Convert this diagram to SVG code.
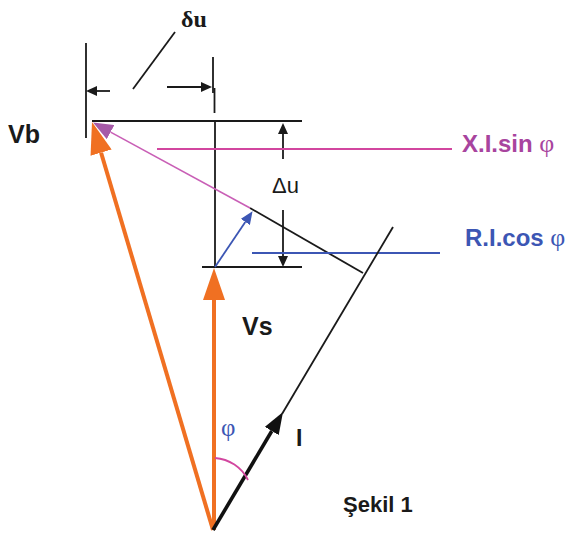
<svg xmlns="http://www.w3.org/2000/svg" width="576" height="540" viewBox="0 0 576 540">
<style>
.k{stroke:#1a1a1a;stroke-width:1.8;fill:none}
.or{stroke:#f07022;stroke-width:4;fill:none}
.mg{stroke:#c95fb6;stroke-width:1.6;fill:none}
.mgh{stroke:#d2469f;stroke-width:1.8;fill:none}
.bl{stroke:#3c56b4;stroke-width:1.8;fill:none}
.t{font-family:"Liberation Sans",Arial,sans-serif;font-weight:bold}
.ph{font-family:"Liberation Serif","DejaVu Serif",serif;font-weight:normal}
</style>
<defs>
<marker id="ao" viewBox="0 0 32 22" refX="0" refY="11" markerWidth="32" markerHeight="22" markerUnits="userSpaceOnUse" orient="auto"><path d="M0,0 L32,11 L0,22 z" fill="#f07022"/></marker>
<marker id="ak" viewBox="0 0 11 10" refX="0" refY="5" markerWidth="11" markerHeight="10" markerUnits="userSpaceOnUse" orient="auto"><path d="M0,0 L11,5 L0,10 z" fill="#1a1a1a"/></marker>
<marker id="ai" viewBox="0 0 22 16" refX="0" refY="8" markerWidth="22" markerHeight="16" markerUnits="userSpaceOnUse" orient="auto"><path d="M0,0 L22,8 L0,16 z" fill="#111"/></marker>
<marker id="ab" viewBox="0 0 13 11" refX="0" refY="5.5" markerWidth="13" markerHeight="11" markerUnits="userSpaceOnUse" orient="auto"><path d="M0,0 L13,5.5 L0,11 z" fill="#3c56b4"/></marker>
<marker id="am" viewBox="0 0 20 16" refX="0" refY="8" markerWidth="20" markerHeight="16" markerUnits="userSpaceOnUse" orient="auto"><path d="M0,0 L20,8 L0,16 z" fill="#a65aa8"/></marker>
</defs>
<g id="connectors">
<line class="k" x1="86" y1="43" x2="86" y2="138"/>
<line class="k" x1="213" y1="57" x2="213" y2="93"/>
<line class="k" x1="214.5" y1="88" x2="214.5" y2="113"/>
<line class="k" x1="215" y1="120" x2="215" y2="267"/>
<line class="k" x1="92" y1="121" x2="302" y2="121"/>
<line class="k" x1="202" y1="267" x2="302" y2="267"/>
<line class="k" x1="133" y1="89" x2="175" y2="32"/>
<line class="k" x1="110" y1="91" x2="97" y2="91" marker-end="url(#ak)"/>
<line class="k" x1="167" y1="87" x2="201" y2="87" marker-end="url(#ak)"/>
<line class="k" x1="283" y1="159" x2="283" y2="134" marker-end="url(#ak)"/>
<line class="k" x1="283" y1="210" x2="283" y2="256" marker-end="url(#ak)"/>
<line class="k" x1="250" y1="208" x2="363" y2="273"/>
<line class="mgh" x1="157" y1="149" x2="452" y2="149"/>
<line class="bl" x1="252" y1="253" x2="440" y2="253"/>
<line class="or" x1="214" y1="530" x2="214" y2="300" marker-end="url(#ao)"/>
<line class="or" x1="213" y1="530" x2="101.1" y2="152.7" marker-end="url(#ao)"/>
<line class="mg" x1="250" y1="208" x2="110.6" y2="132.1" marker-end="url(#am)"/>
<line class="bl" x1="215" y1="267" x2="245.3" y2="222" marker-end="url(#ab)"/>
<line stroke="#111" stroke-width="3.6" x1="213" y1="530" x2="271.8" y2="431" marker-end="url(#ai)"/>
<line class="k" stroke-width="1.6" x1="282" y1="414" x2="393" y2="227"/>
<path class="mgh" d="M215,458 A40,40 0 0 1 248,480"/>
</g>
<g id="label-du"><text class="ph" x="181" y="27" font-size="24" fill="#1a1a1a" style="font-weight:bold">δu</text></g>
<g id="label-Du"><text class="t" style="font-weight:normal" x="272" y="193" font-size="22" fill="#1a1a1a">Δu</text></g>
<g id="label-Vb"><text class="t" x="8" y="143" font-size="25" fill="#1a1a1a">Vb</text></g>
<g id="label-Vs"><text class="t" x="242" y="335" font-size="25" fill="#1a1a1a">Vs</text></g>
<g id="label-X"><text class="t" x="462" y="152" font-size="24" fill="#a8449e">X.I.sin <tspan class="ph" font-size="26">φ</tspan></text></g>
<g id="label-R"><text class="t" x="465" y="246" font-size="24" fill="#3c56b4">R.I.cos <tspan class="ph" font-size="26">φ</tspan></text></g>
<g id="label-phi"><text class="ph" x="221" y="436" font-size="25" fill="#3c56b4">φ</text></g>
<g id="label-I"><text class="t" x="296" y="446" font-size="23" fill="#1a1a1a">I</text></g>
<g id="label-sekil"><text class="t" x="343" y="512" font-size="22" fill="#1a1a1a">Şekil 1</text></g>
</svg>
